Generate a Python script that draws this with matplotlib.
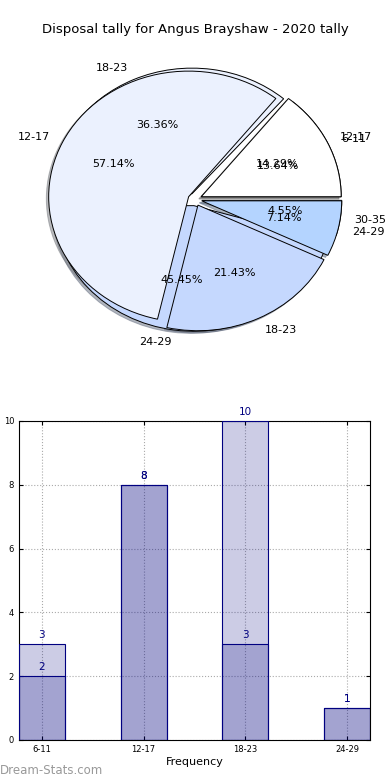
import matplotlib
matplotlib.use('Agg')
import matplotlib.pyplot as plt

# data
title = 'Disposal tally for Angus Brayshaw - 2020 tally'
bins = ['6-11', '12-17', '18-23', '24-29']
career = [3, 8, 10, 1]
season = [2, 8, 3, 1]
pie1_labels = ['6-11', '18-23', '24-29', '30-35']
pie2_labels = ['12-17', '12-17', '18-23', '24-29']
slice_colors = ['#ffffff', '#ebf1fe', '#c5d8fe', '#b4d4ff']

fig = plt.figure(figsize=(3.9, 7.8), dpi=100)
fig.text(0.5, 1 - 30/780., title, ha='center', va='center', fontsize=9.5)

# pie (two overlapping pies, like the original)
ax1 = fig.add_axes([0.0513, 0.543, 0.897, 0.4026])
for vals, labs in [(career, pie1_labels), (season, pie2_labels)]:
    wedges, texts, autotexts = ax1.pie(vals, labels=labs, colors=slice_colors,
                                       explode=[0.05]*len(vals),
                                       shadow={'ox': -0.012, 'oy': -0.012, 'shade': 0.5},
                                       autopct='%1.2f%%', startangle=0,
                                       wedgeprops={'edgecolor': 'black', 'linewidth': 0.7})
    for t in texts + autotexts:
        t.set_fontsize(8)
ax1.set_aspect('auto')
ax1.set_xlim(-1.25, 1.25)
ax1.set_ylim(-1.25, 1.25)

# bars
ax2 = fig.add_axes([0.0487, 0.0513, 0.9, 0.409])
x = range(len(bins))
w = 0.45
for vals in [career, season]:
    ax2.bar(x, vals, w, color='navy', alpha=0.2, zorder=2)
    ax2.bar(x, vals, w, facecolor='none', edgecolor='navy', linewidth=0.8, zorder=3)
    for i, v in enumerate(vals):
        ax2.text(i, v + 0.12, str(v), ha='center', va='bottom', color='navy', fontsize=7.5)
ax2.set_xlim(-w/2, len(bins) - 1 + w/2)
ax2.set_ylim(0, 10)
ax2.set_xticks(list(x))
ax2.set_xticklabels(bins)
ax2.set_yticks([0, 2, 4, 6, 8, 10])
ax2.tick_params(direction='in', top=True, right=True, labelsize=6, length=3)
ax2.grid(True, linestyle=':', color='#aaaaaa', linewidth=0.8, zorder=0)
ax2.set_axisbelow(True)
ax2.set_xlabel('Frequency', fontsize=8, labelpad=2)
ax2.set_ylabel('Disposal Tally', fontsize=8)
ax2.yaxis.set_label_coords(-0.062, 0.5)

fig.text(0.0, 1 - 770/780., 'Dream-Stats.com', color='#999999', fontsize=8.5,
         ha='left', va='center')

fig.savefig('out.png', dpi=100)
